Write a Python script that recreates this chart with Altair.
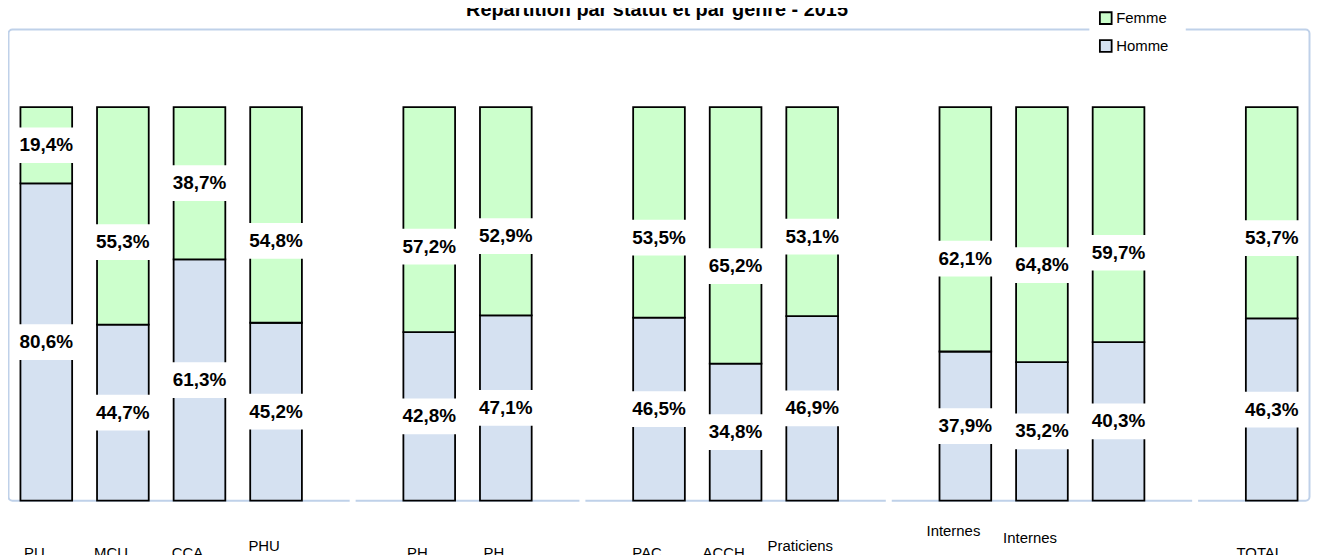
import altair as alt
import pandas as pd

# ---------------- data ----------------
title_text = "Répartition par statut et par genre - 2015"
series = ["Femme", "Homme"]
series_colors = ["#CCFFCC", "#D5E1F1"]

categories = ["PU", "MCU", "CCA", "PHU", "PH", "PH", "PAC", "ACCH",
              "Praticiens", "Internes", "Internes", "", "TOTAL"]
# lines of each category label (the label block is centred vertically)
category_lines = [["PU"], ["MCU"], ["CCA"], ["PHU", ""], ["PH"], ["PH"],
                  ["PAC"], ["ACCH"], ["Praticiens", ""],
                  ["Internes", "", "", ""], ["Internes", "", ""], [""], ["TOTAL"]]
group_sizes = [4, 2, 3, 3, 1]

homme = [80.6, 44.7, 61.3, 45.2, 42.8, 47.1, 46.5, 34.8, 46.9, 37.9, 35.2, 40.3, 46.3]
femme = [19.4, 55.3, 38.7, 54.8, 57.2, 52.9, 53.5, 65.2, 53.1, 62.1, 64.8, 59.7, 53.7]

# ---------------- tables ----------------
keys = [f"k{i:02d}" for i in range(len(categories))]
domain, spacers, pos = [], [], 0
for gi, n in enumerate(group_sizes):
    domain.extend(keys[pos:pos + n])
    pos += n
    if gi < len(group_sizes) - 1:
        s = f"sep{gi}"
        domain.append(s)
        spacers.append(s)


def fmt(v):
    return f"{v:.1f}".replace(".", ",") + "%"


rows = []
for i, k in enumerate(keys):
    h, f = homme[i], femme[i]
    rows.append({"key": k, "genre": "Homme", "value": h, "ord": 0,
                 "label": fmt(h), "lpos": h / 2})
    rows.append({"key": k, "genre": "Femme", "value": f, "ord": 1,
                 "label": fmt(f), "lpos": h + f * (0.5 if f < 50 else 0.38)})
df = pd.DataFrame(rows)
cat_df = pd.DataFrame({"key": keys, "lines": category_lines})
sep_df = pd.DataFrame({"key": spacers})

W, H = 1310, 474
FONT = "Liberation Sans"

x_enc = alt.X("key:N", scale=alt.Scale(domain=domain, paddingInner=0.325,
                                      paddingOuter=0.1625), axis=None)
y_scale = alt.Scale(domain=[0, 100], range=[474, 78])

frame = alt.Chart(alt.Data(values=[{}])).mark_rect(
    fill="white", stroke="#BFD1E9", strokeWidth=2, cornerRadius=4
).encode(x=alt.value(0.5), x2=alt.value(W - 0.5), y=alt.value(0), y2=alt.value(H))

bars = alt.Chart(df).mark_bar(stroke="black", strokeWidth=1.8).encode(
    x=x_enc,
    y=alt.Y("value:Q", stack="zero", scale=y_scale, axis=None),
    order=alt.Order("ord:Q"),
    fill=alt.Fill("genre:N", scale=alt.Scale(domain=series, range=series_colors),
                  legend=alt.Legend(title=None, orient="none", legendX=1092, legendY=-24,
                                    fillColor="white", padding=5, symbolType="square",
                                    symbolSize=140, symbolStrokeColor="black",
                                    symbolStrokeWidth=1.8, labelFont=FONT, labelFontSize=15,
                                    labelColor="black", labelOffset=3, rowPadding=7)),
)

boxes = alt.Chart(df).mark_point(
    shape="M-1,-0.58H1V0.58H-1Z", filled=True, fill="white", opacity=1, strokeWidth=0,
    size=3844
).encode(x=x_enc, y=alt.Y("lpos:Q", scale=y_scale, axis=None))

labels = alt.Chart(df).mark_text(
    font=FONT, fontSize=19, fontWeight="bold", color="black", baseline="middle"
).encode(x=x_enc, y=alt.Y("lpos:Q", scale=y_scale, axis=None), text="label:N")

gaps = alt.Chart(sep_df).mark_bar(width=6, color="white").encode(
    x=x_enc, y=alt.value(H - 3), y2=alt.value(H + 3))

cat_labels = alt.Chart(cat_df).transform_calculate(
    ypos="520 - (length(datum.lines) - 1) * 7.5"
).mark_text(
    font=FONT, fontSize=15, color="black", baseline="top", lineHeight=15, dx=-12
).encode(x=x_enc, y=alt.Y("ypos:Q", scale=None, axis=None), text="lines")

legend_mask = alt.Chart(alt.Data(values=[{}])).mark_rect(fill="white").encode(
    x=alt.value(1088), x2=alt.value(1185), y=alt.value(-2), y2=alt.value(2))

title = alt.Chart(alt.Data(values=[{"t": title_text}])).mark_text(
    font=FONT, fontSize=20, fontWeight="bold", color="black", baseline="alphabetic"
).encode(x=alt.value(653), y=alt.value(-14), text="t:N")

chart = alt.layer(frame, bars, boxes, labels, gaps, legend_mask, cat_labels, title).properties(
    width=W, height=H,
    autosize=alt.AutoSizeParams(type="none"),
    padding={"left": 0, "top": 20, "right": 1, "bottom": 53},
    background="white",
).configure_view(strokeWidth=0)

chart.save("out.html", embed_options={"renderer": "svg", "actions": False})
